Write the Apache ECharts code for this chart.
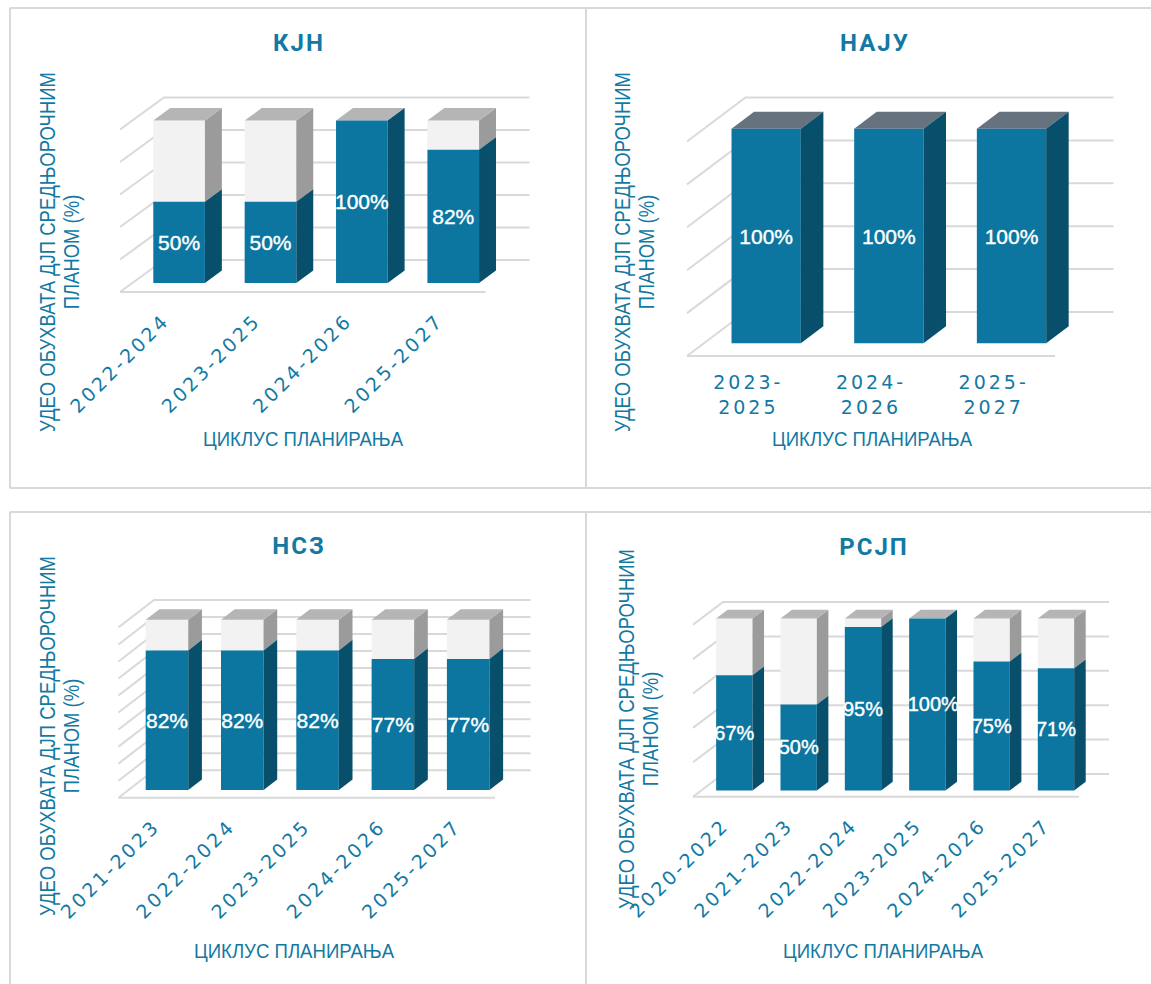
<!DOCTYPE html>
<html><head><meta charset="utf-8">
<script src="https://cdn.jsdelivr.net/npm/echarts@6/dist/echarts.min.js"></script>
<style>
html,body{margin:0;padding:0;background:#fff}
#c{width:1151px;height:984px}
#c text[style*="DejaVu Sans"]{letter-spacing:3px}
#c text[style*="bold"]{letter-spacing:2px}
</style></head><body><div id="c"></div>
<script>
// ---- data ----
const titleNames = ['КЈН', 'НАЈУ', 'НСЗ', 'РСЈП'];
const cyclesKJN = ['2022-2024', '2023-2025', '2024-2026', '2025-2027'];
const coverageKJN = [50, 50, 100, 82];
const cyclesNAJU = ['2023-2025', '2024-2026', '2025-2027'];
const coverageNAJU = [100, 100, 100];
const cyclesNSZ = ['2021-2023', '2022-2024', '2023-2025', '2024-2026', '2025-2027'];
const coverageNSZ = [82, 82, 82, 77, 77];
const cyclesRSJP = ['2020-2022', '2021-2023', '2022-2024', '2023-2025', '2024-2026', '2025-2027'];
const coverageRSJP = [67, 50, 95, 100, 75, 71];
const axisTicksStep = [20, 20, 10, 20];
const yTitle = 'УДЕО ОБУХВАТА ДЈП СРЕДЊОРОЧНИМ\nПЛАНОМ (%)';
const xTitle = 'ЦИКЛУС ПЛАНИРАЊА';

// ---- layout & style ----
const cycles = [cyclesKJN, cyclesNAJU, cyclesNSZ, cyclesRSJP];
const coverage = [coverageKJN, coverageNAJU, coverageNSZ, coverageRSJP];
const plots = [
  {l:120, t:129.5, w:365.5, h:162.5, dx:44, dy:-32, tx:294, ty:44, xtx:303, xty:439, ytx:59, yty:252, cap:'#b5b5b5', lf:21, full:0},
  {l:687, t:141.5, w:368, h:214.5, dx:58.5, dy:-44, tx:870, ty:44, xtx:872, xty:439, ytx:634.5, yty:252, cap:'#66737f', lf:21, full:0},
  {l:118.5, t:627.4, w:376.5, h:170.3, dx:35.5, dy:-27.4, tx:294, ty:547, xtx:294, xty:951, ytx:59, yty:736, cap:'#b5b5b5', lf:21, full:0},
  {l:693, t:624.7, w:386, h:172, dx:30, dy:-22.7, tx:869, ty:548, xtx:883, xty:951, ytx:638, yty:729, cap:'#b5b5b5', lf:20, full:6}
];
const TEAL = '#0c76a0', TEAL_SIDE = '#084f6c', GREY_FRONT = '#f2f2f2', GREY_SIDE = '#9b9b9b', GRID = '#d9d9d9', INK = '#1379a3';
const BAR_W = 0.565, BAR_OFFSET = 0.305, BAR_DEPTH = 0.385, BAR_NUDGE = 0.7;

function poly(pts, fill) {
  return {type:'polygon', shape:{points:pts}, style:{fill:fill}};
}
function gridRenderer(p) {
  return function (params, api) {
    const c = params.coordSys, v = api.value(1), y = api.coord([0, v])[1];
    const kids = [{type:'polyline', shape:{points:[[c.x, y], [c.x + p.dx, y + p.dy], [c.x + c.width + p.dx, y + p.dy]]},
      style:{stroke:GRID, lineWidth:2, fill:null}}];
    if (v === 0) kids.push({type:'line', shape:{x1:c.x, y1:y, x2:c.x + c.width, y2:y}, style:{stroke:GRID, lineWidth:2}});
    return {type:'group', children:kids};
  };
}
function barRenderer(p) {
  return function (params, api) {
    const i = api.value(0), v = api.value(1);
    const band = api.size([1, 0])[0];
    const cx = api.coord([i, 0])[0] + p.dx * BAR_OFFSET;
    const ox = p.dy * BAR_OFFSET + BAR_NUDGE;
    const bw = band * BAR_W, x0 = cx - bw / 2, x1 = cx + bw / 2;
    const y0 = api.coord([i, 0])[1] + ox, yv = api.coord([i, v])[1] + ox, yt = api.coord([i, 100])[1] + ox;
    const ddx = p.dx * BAR_DEPTH, ddy = p.dy * BAR_DEPTH;
    const kids = [];
    if (v < 100) {
      kids.push(poly([[x0, yt], [x1, yt], [x1, yv], [x0, yv]], GREY_FRONT));
      kids.push(poly([[x1, yt], [x1 + ddx, yt + ddy], [x1 + ddx, yv + ddy], [x1, yv]], GREY_SIDE));
    }
    kids.push(poly([[x0, yt], [x1, yt], [x1 + ddx, yt + ddy], [x0 + ddx, yt + ddy]], p.cap));
    kids.push(poly([[x0, yv], [x1, yv], [x1, y0], [x0, y0]], TEAL));
    kids.push(poly([[x1, yv], [x1 + ddx, yv + ddy], [x1 + ddx, y0 + ddy], [x1, y0]], TEAL_SIDE));
    kids.push({type:'text', x:cx + (v === 100 ? p.full : 0), y:(y0 + yv) / 2, z2:10, style:{text:v + '%', fill:'#fff', stroke:'#fff', lineWidth:0.4,
      font:p.lf + 'px "Liberation Sans"', align:'center', verticalAlign:'middle'}});
    return {type:'group', children:kids};
  };
}

const grids = [], xAxes = [], yAxes = [], series = [], titles = [], graphics = [];
plots.forEach(function (p, k) {
  grids.push({left:p.l, top:p.t, width:p.w, height:p.h});
  const rotated = k !== 1;
  xAxes.push({type:'category', gridIndex:k, data:cycles[k], axisLine:{show:false}, axisTick:{show:false}, splitLine:{show:false},
    axisLabel:{interval:0, color:INK, fontFamily:'DejaVu Sans', fontSize:19, rotate:rotated ? 45 : 0,
      margin:rotated ? 25 : 13, lineHeight:25, hideOverlap:false,
      formatter:rotated ? '{value}' : function (s) { return s.replace('-', '-\n'); }}});
  yAxes.push({type:'value', gridIndex:k, min:0, max:100, interval:axisTicksStep[k], axisLine:{show:false}, axisTick:{show:false},
    axisLabel:{show:false}, splitLine:{show:false}});
  const ticks = [];
  for (let t = 0; t <= 100; t += axisTicksStep[k]) ticks.push([0, t]);
  series.push({type:'custom', xAxisIndex:k, yAxisIndex:k, z:1, silent:true, clip:false, renderItem:gridRenderer(p), data:ticks, encode:{x:0, y:1}});
  series.push({type:'custom', xAxisIndex:k, yAxisIndex:k, z:2, silent:true, clip:false, renderItem:barRenderer(p),
    data:coverage[k].map(function (v, i) { return [i, v]; }), encode:{x:0, y:1}});
  titles.push({text:titleNames[k], left:p.tx, top:p.ty - 6, textAlign:'center', textVerticalAlign:'middle',
    textStyle:{color:INK, fontFamily:'Roboto', fontWeight:'bold', fontSize:24}});
  graphics.push({type:'text', x:p.xtx, y:p.xty, scaleX:0.886, style:{text:xTitle, fill:INK, font:'21px "Liberation Sans"', align:'center', verticalAlign:'middle'}});
  graphics.push({type:'text', x:p.ytx, y:p.yty, rotation:Math.PI / 2, scaleX:0.84, style:{text:yTitle, fill:INK, font:'22px "Liberation Sans"', lineHeight:24, align:'center', verticalAlign:'middle'}});
});
// panel frames
[[10, 8, 1151, 8], [10, 488, 1151, 488], [10, 512, 1151, 512], [10, 8, 10, 488], [10, 512, 10, 984], [586, 8, 586, 488], [586, 512, 586, 984]]
  .forEach(function (s) {
    graphics.push({type:'line', shape:{x1:s[0], y1:s[1], x2:s[2], y2:s[3]}, style:{stroke:GRID, lineWidth:2}});
  });

const chart = echarts.init(document.getElementById('c'), null, {renderer:'svg', width:1151, height:984});
chart.setOption({animation:false, backgroundColor:'#fff', title:titles, grid:grids, xAxis:xAxes, yAxis:yAxes, series:series, graphic:{elements:graphics}});
</script></body></html>
